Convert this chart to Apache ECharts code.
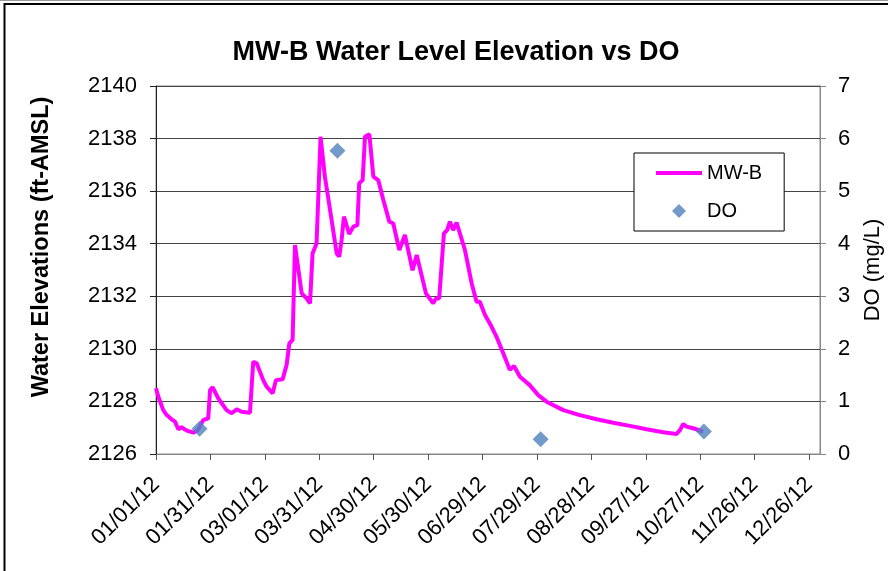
<!DOCTYPE html>
<html><head><meta charset="utf-8">
<script src="https://cdn.jsdelivr.net/npm/echarts@6/dist/echarts.min.js"></script>
<style>html,body{margin:0;padding:0;background:#fff}#c{width:888px;height:571px}</style>
</head><body><div id="c"></div>
<script>
// Days since 01/01/12 and MW-B water level elevation (ft-AMSL)
const levelDay = [0, 1.3, 4, 5.9, 8.6, 10.5, 12.3, 14, 17, 20.6, 23, 26, 28.8, 29.8, 31.2, 34.3, 38.9, 41.7, 44.5, 47.2,
  51.8, 53.6, 55.5, 59.1, 61, 64.3, 66.1, 69.8, 72, 73.5, 75.3, 76.6, 80.3, 83, 84.9, 86.3, 88.5, 90.7, 93.1, 96.8,
  99.6, 101, 102.3, 103.6, 106.5, 108.8, 111, 112, 113.9, 115.2, 117.6, 119.8, 122.5, 125.3, 128.6, 130.8, 134.1, 137.2,
  141.4, 143.7, 148.8, 152.8, 154.3, 156.1, 158.7, 160.5, 162, 163.8, 165.7, 170.3, 174, 176.7, 178.5, 181.3, 185, 187.7,
  191.4, 195, 197.3, 200.6, 206, 210.7, 215.3, 224.5, 233.6, 242.9, 252, 261.2, 270.4, 279.6, 286.9, 288.8, 290.6, 292.4,
  294.3, 296.1, 301.6];
const levelValue = [2128.50, 2128.18, 2127.67, 2127.48, 2127.32, 2127.23, 2126.94, 2127.02, 2126.89, 2126.81, 2126.90, 2127.29, 2127.36, 2128.43, 2128.54, 2128.12, 2127.67, 2127.55, 2127.70, 2127.61,
  2127.57, 2129.51, 2129.45, 2128.81, 2128.56, 2128.31, 2128.81, 2128.84, 2129.39, 2130.21, 2130.34, 2133.95, 2132.11, 2131.92, 2131.73, 2133.63, 2134.01, 2138.07, 2136.55, 2134.90,
  2133.63, 2133.51, 2134.14, 2135.03, 2134.37, 2134.65, 2134.71, 2136.30, 2136.42, 2138.07, 2138.17, 2136.55, 2136.42, 2135.66, 2134.84, 2134.77, 2133.76, 2134.33,
  2132.99, 2133.57, 2132.11, 2131.73, 2131.92, 2131.92, 2134.39, 2134.52, 2134.84, 2134.52, 2134.80, 2133.76, 2132.49, 2131.79, 2131.79, 2131.30, 2130.84, 2130.46,
  2129.83, 2129.20, 2129.35, 2128.94, 2128.62, 2128.24, 2127.99, 2127.67, 2127.48, 2127.32, 2127.19, 2127.07, 2126.94, 2126.83, 2126.76, 2126.91, 2127.14, 2127.04,
  2127.01, 2126.98, 2126.85];

// DO samples (days since 01/01/12, mg/L)
const doDay = [24, 100, 212, 302];
const doValue = [0.48, 5.77, 0.28, 0.43];

// X axis ticks
const xTickDay = [0, 30, 60, 90, 120, 150, 180, 210, 240, 270, 300, 330, 360];
const xTickLabels = ['01/01/12', '01/31/12', '03/01/12', '03/31/12', '04/30/12', '05/30/12', '06/29/12',
  '07/29/12', '08/28/12', '09/27/12', '10/27/12', '11/26/12', '12/26/12'];

const FONT = '"Liberation Sans", Arial, sans-serif';
const chart = echarts.init(document.getElementById('c'));

// legend icons: invisible corner points fix the 46x14 box so the marks keep their shape
const lineIcon = 'path://M0,0L0,0M46,14L46,14M0,5L46,5L46,9L0,9Z';
const diamondIcon = 'path://M0,0L0,0M46,14L46,14M16,7L23,0L30,7L23,14Z';

const option = {
  animation: false,
  backgroundColor: '#fff',
  title: {
    text: 'MW-B Water Level Elevation vs DO',
    left: 451, top: 34, textAlign: 'center',
    textStyle: { fontFamily: FONT, fontSize: 27, fontWeight: 'bold', color: '#000' }
  },
  legend: {
    orient: 'vertical', left: 634, top: 153,
    padding: [10, 22, 10, 22], itemGap: 18, itemWidth: 46, itemHeight: 14,
    borderColor: '#000', borderWidth: 1, backgroundColor: '#fff',
    textStyle: { fontFamily: FONT, fontSize: 20, color: '#000' },
    data: [{ name: 'MW-B', icon: lineIcon }, { name: 'DO', icon: diamondIcon }]
  },
  grid: { left: 156, right: 68, top: 86, bottom: 117, show: true, borderColor: '#888', borderWidth: 1 },
  xAxis: {
    type: 'value', min: 0, max: 366, interval: 30,
    axisLine: { show: true, lineStyle: { color: '#888', width: 1 } },
    axisTick: { show: true, inside: false, length: 6, customValues: xTickDay, lineStyle: { color: '#555' } },
    axisLabel: {
      rotate: 45, margin: 27, fontFamily: FONT, fontSize: 22, color: '#000',
      customValues: xTickDay,
      formatter: v => { const i = xTickDay.indexOf(Math.round(v)); return i >= 0 ? xTickLabels[i] : ''; }
    },
    splitLine: { show: false }
  },
  yAxis: [{
    type: 'value', position: 'left', min: 2126, max: 2140, interval: 2,
    axisLine: { show: true, lineStyle: { color: '#222', width: 1 } },
    axisTick: { show: true, inside: false, length: 6, lineStyle: { color: '#222' } },
    axisLabel: { margin: 19, fontFamily: FONT, fontSize: 22, color: '#000', formatter: v => String(v) },
    splitLine: { show: true, lineStyle: { color: '#444', width: 1 } }
  }, {
    type: 'value', position: 'right', min: 0, max: 7, interval: 1,
    axisLine: { show: true, lineStyle: { color: '#888', width: 1 } },
    axisTick: { show: true, inside: false, length: 6, lineStyle: { color: '#888' } },
    axisLabel: { margin: 18, fontFamily: FONT, fontSize: 22, color: '#000' },
    splitLine: { show: false }
  }],
  graphic: [
    { type: 'rect', silent: true, shape: { x: 4.5, y: 4, width: 1000, height: 1000 },
      style: { fill: 'none', stroke: '#000', lineWidth: 2 } },
    { type: 'line', silent: true, shape: { x1: 0, y1: 0.5, x2: 888, y2: 0.5 }, style: { stroke: '#999', lineWidth: 1 } },
    { type: 'text', silent: true, x: 42, y: 247, rotation: Math.PI / 2,
      style: { text: 'Water Elevations (ft-AMSL)', fontFamily: FONT, fontSize: 23.5, fontWeight: 'bold', fill: '#000',
        textAlign: 'center', textVerticalAlign: 'middle' } },
    { type: 'text', silent: true, x: 873, y: 270, rotation: Math.PI / 2,
      style: { text: 'DO (mg/L)', fontFamily: FONT, fontSize: 22, fill: '#000',
        textAlign: 'center', textVerticalAlign: 'middle' } }
  ],
  series: [{
    name: 'MW-B', type: 'line', yAxisIndex: 0, symbol: 'none', z: 2,
    lineStyle: { color: '#FF00FF', width: 4 }, itemStyle: { color: '#FF00FF' },
    data: levelDay.map((d, i) => [d, levelValue[i]])
  }, {
    name: 'DO', type: 'scatter', yAxisIndex: 1, symbol: 'diamond', symbolSize: 16, z: 3,
    itemStyle: { color: '#4F81BD' },
    data: doDay.map((d, i) => [d, doValue[i]])
  }]
};
chart.setOption(option);
</script>
</body></html>
